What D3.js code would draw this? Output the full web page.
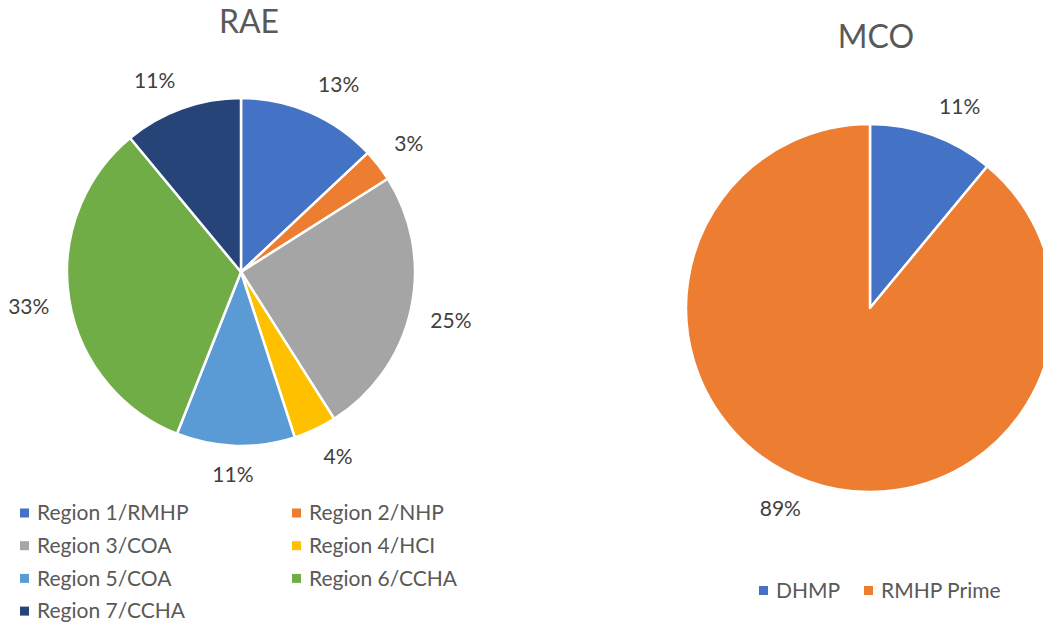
<!DOCTYPE html>
<html>
<head>
<meta charset="utf-8">
<script src="https://cdn.jsdelivr.net/npm/d3@7"></script>
<style>
  html, body { margin: 0; padding: 0; background: #fff; }
  svg { display: block; font-family: Lato, "Open Sans", sans-serif; }
</style>
</head>
<body>
<svg id="chart" width="1043" height="625"></svg>
<script>
// RAE share by region
const raeCategories = ["Region 1/RMHP", "Region 2/NHP", "Region 3/COA", "Region 4/HCI",
                       "Region 5/COA", "Region 6/CCHA", "Region 7/CCHA"];
const raeValues = [13, 3, 25, 4, 11, 33, 11];
const raeColors = ["#4472C4", "#ED7D31", "#A5A5A5", "#FFC000", "#5B9BD5", "#70AD47", "#264478"];

// MCO share by plan
const mcoCategories = ["DHMP", "RMHP Prime"];
const mcoValues = [11, 89];
const mcoColors = ["#4472C4", "#ED7D31"];

const textColor = "#595959";
const labelColor = "#404040";
const svg = d3.select("#chart");
const clamp = v => Math.max(-1, Math.min(1, v));

function drawPie(cfg) {
  const g = svg.append("g").attr("transform", `translate(${cfg.cx},${cfg.cy})`);
  const pie = d3.pie().sort(null).value(d => d.value);
  const arc = d3.arc().innerRadius(0).outerRadius(cfg.r);
  const total = d3.sum(cfg.values);
  const data = cfg.values.map((v, i) => ({ value: v, name: cfg.categories[i], color: cfg.colors[i] }));
  const arcs = pie(data);

  g.selectAll("path.slice").data(arcs).join("path")
    .attr("class", "slice")
    .attr("d", arc)
    .attr("fill", d => d.data.color)
    .attr("stroke", "#fff")
    .attr("stroke-width", 2.5)
    .attr("stroke-linejoin", "round");

  // percentage labels sit just outside the rim; the text box is pushed
  // outward by its own half-size so it never overlaps the slice
  const labels = g.selectAll("text.pct").data(arcs).join("text")
    .attr("class", "pct")
    .attr("text-anchor", "middle")
    .attr("dy", "0.35em")
    .attr("fill", labelColor)
    .style("font-size", "21px")
    .text(d => d3.format(".0%")(d.data.value / total));

  labels.each(function(d) {
    const a = (d.startAngle + d.endAngle) / 2;
    const ux = Math.sin(a), uy = -Math.cos(a);
    const bb = this.getBBox();
    const hw = bb.width / 2, hh = 9;
    const R = cfg.r + cfg.labelGap;
    const x = R * ux + hw * clamp(3 * ux);
    const y = R * uy + hh * clamp(3 * uy);
    d3.select(this).attr("transform", `translate(${x},${y})`);
  });

  svg.append("text")
    .attr("x", cfg.titleX).attr("y", cfg.titleY)
    .attr("text-anchor", "middle")
    .attr("fill", textColor)
    .style("font-size", "32px")
    .text(cfg.title);

  // legend
  const lg = svg.append("g");
  const items = lg.selectAll("g").data(data).join("g")
    .attr("transform", (d, i) => {
      const col = i % cfg.legendCols, row = Math.floor(i / cfg.legendCols);
      return `translate(${cfg.legendX + col * cfg.legendColW},${cfg.legendY + row * cfg.legendRowH})`;
    });
  items.append("rect")
    .attr("x", 0).attr("y", -4.5).attr("width", 9).attr("height", 9)
    .attr("fill", d => d.color);
  items.append("text")
    .attr("x", 17).attr("dy", "0.35em")
    .attr("fill", textColor)
    .style("font-size", "21px")
    .text(d => d.name);
}

drawPie({
  title: "RAE", titleX: 249, titleY: 33,
  cx: 241, cy: 272, r: 174, labelGap: 20,
  categories: raeCategories, values: raeValues, colors: raeColors,
  legendX: 20, legendY: 513, legendCols: 2, legendColW: 272, legendRowH: 32.7
});

drawPie({
  title: "MCO", titleX: 876, titleY: 48,
  cx: 870, cy: 308, r: 184, labelGap: 20,
  categories: mcoCategories, values: mcoValues, colors: mcoColors,
  legendX: 759, legendY: 590.5, legendCols: 2, legendColW: 105, legendRowH: 32.7
});
</script>
</body>
</html>
